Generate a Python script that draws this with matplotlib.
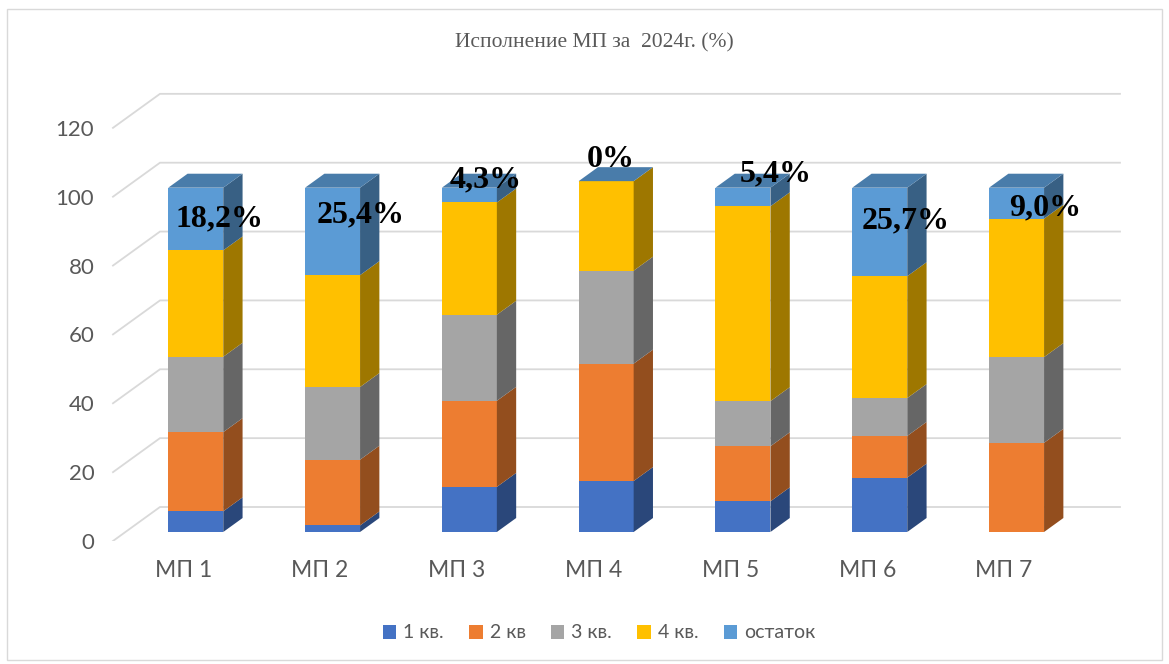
import matplotlib
matplotlib.use('Agg')
import matplotlib.pyplot as plt
import matplotlib.colors as mcolors
from matplotlib.patches import Polygon, Patch, Rectangle

# данные (прочитаны с исходного рисунка)
categories = ['МП 1', 'МП 2', 'МП 3', 'МП 4', 'МП 5', 'МП 6', 'МП 7']
q1 = [6.0, 1.9, 13.1, 14.8, 8.9, 15.8, 0.0]
q2 = [23.0, 19.1, 25.0, 34.1, 16.0, 12.1, 25.9]
q3 = [21.9, 21.1, 25.0, 27.0, 13.1, 11.0, 24.9]
q4 = [30.9, 32.5, 32.6, 26.0, 56.6, 35.4, 40.2]
rest = [18.2, 25.4, 4.3, 0.0, 5.4, 25.7, 9.0]
rest_labels = ['18,2%', '25,4%', '4,3%', '0%', '5,4%', '25,7%', '9,0%']
series_names = ['1 кв.', '2 кв', '3 кв.', '4 кв.', 'остаток']
yticks = [0, 20, 40, 60, 80, 100, 120]

# стиль
colors = ['#4472C4', '#ED7D31', '#A5A5A5', '#FFC000', '#5B9BD5']
grid_color = '#D9D9D9'
text_color = '#595959'
label_font = ['Lato', 'Noto Sans', 'DejaVu Sans']
serif_font = ['Liberation Serif', 'DejaVu Serif']

# ручное положение подписей "остаток" (сдвиг от категории, высота)
label_dx = [0.265, 0.295, 0.213, 0.126, 0.333, 0.283, 0.299]
label_y = [93.5, 94.7, 104.8, 110.7, 106.6, 92.9, 96.6]

# псевдо-3D: косая проекция глубины
DX, DY = 0.3436, 9.875      # полная глубина пола в единицах осей
Z_FRONT, Z_BACK = 0.265, 0.676
BAR_W = 0.402


def shade(c, k):
    r, g, b = mcolors.to_rgb(c)
    return (r * k, g * k, b * k)


def proj(x, y, z):
    return (x + DX * z, y + DY * z)


W, H = 1169, 664
fig = plt.figure(figsize=(W / 100, H / 100), dpi=100)

# рамка диаграммы
fig.patches.append(Rectangle((7 / W, 1 - 660 / H), 1155 / W, 651 / H,
                             transform=fig.transFigure, fill=False,
                             edgecolor=grid_color, linewidth=1))

x_left, x_right = -0.6, 7.0
y_top = 132
px0 = 183.3 + x_left * 136.8
px1 = 183.3 + x_right * 136.8
py_bottom = 541
py_top = 541 - y_top * 3.443
ax = fig.add_axes([px0 / W, 1 - py_bottom / H, (px1 - px0) / W, (py_bottom - py_top) / H])
ax.set_xlim(x_left, x_right)
ax.set_ylim(0, y_top)
for s in ax.spines.values():
    s.set_visible(False)

# линии сетки на задней и боковой стенке
wall_x = -0.514
grid_end = 6.847
for v in yticks:
    bx, by = proj(wall_x, v, 1)
    ax.plot([wall_x, bx, grid_end], [v, by, by], color=grid_color, lw=1.3,
            zorder=0, solid_joinstyle='miter')

# столбцы
series = [q1, q2, q3, q4, rest]
for i in range(len(categories)):
    x0, x1 = i - BAR_W / 2, i + BAR_W / 2
    bottom = 0.0
    for k, vals in enumerate(series):
        h = vals[i]
        top = bottom + h
        c = colors[k]
        if h > 0:
            front = [proj(x0, bottom, Z_FRONT), proj(x1, bottom, Z_FRONT),
                     proj(x1, top, Z_FRONT), proj(x0, top, Z_FRONT)]
            side = [proj(x1, bottom, Z_FRONT), proj(x1, bottom, Z_BACK),
                    proj(x1, top, Z_BACK), proj(x1, top, Z_FRONT)]
            ax.add_patch(Polygon(front, closed=True, facecolor=c, edgecolor='none', zorder=2))
            ax.add_patch(Polygon(side, closed=True, facecolor=shade(c, 0.62), edgecolor='none', zorder=2))
        bottom = top
    # верхняя грань цветом последнего ряда
    top_face = [proj(x0, bottom, Z_FRONT), proj(x1, bottom, Z_FRONT),
                proj(x1, bottom, Z_BACK), proj(x0, bottom, Z_BACK)]
    ax.add_patch(Polygon(top_face, closed=True, facecolor=shade(colors[-1], 0.8),
                         edgecolor='none', zorder=2))

# подписи остатка
for i, txt in enumerate(rest_labels):
    ax.text(i + label_dx[i], label_y[i], txt, ha='center', va='center',
            fontsize=23, fontweight='bold', family=serif_font, color='black', zorder=5)

ax.set_xticks(range(len(categories)))
ax.set_xticklabels(categories, family=label_font, fontsize=16.5, color=text_color)
ax.set_yticks(yticks)
ax.set_yticklabels([str(v) for v in yticks], family=label_font, fontsize=16, color=text_color)
ax.tick_params(axis='x', length=0, pad=14)
ax.tick_params(axis='y', length=0, pad=5)

fig.text(594 / W, 1 - 43 / H, 'Исполнение МП за  2024г. (%)', ha='center', va='center',
         fontsize=15.5, family=serif_font, color=text_color)

handles = [Patch(facecolor=c, edgecolor='none') for c in colors]
fig.legend(handles, series_names, loc='center', bbox_to_anchor=(599 / W, 1 - 633 / H),
           ncol=5, frameon=False, handlelength=0.7, handleheight=0.7, handletextpad=0.35,
           columnspacing=1.3, prop={'family': label_font, 'size': 14}, labelcolor=text_color)

fig.savefig('out.png', dpi=100)
